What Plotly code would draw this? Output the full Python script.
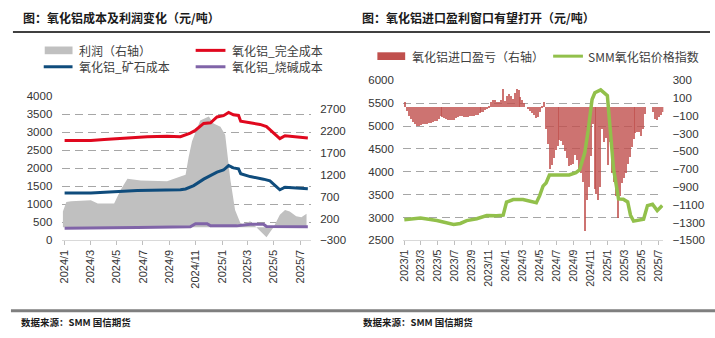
import plotly.graph_objects as go
import pandas as pd

W, H = 715, 338


def px(x):
    return x / W


def py(y):
    return 1 - y / H


# ---------------- Left panel data (元/吨) ----------------
full_cost_dates = ["2024-01-01", "2024-03-02", "2024-04-02", "2024-06-03", "2024-07-11", "2024-08-26",
                   "2024-09-26", "2024-10-19", "2024-10-31", "2024-11-19", "2024-12-05", "2024-12-20",
                   "2025-01-04", "2025-01-16", "2025-01-27", "2025-02-08", "2025-02-13", "2025-03-07",
                   "2025-03-30", "2025-04-14", "2025-05-03", "2025-05-15", "2025-05-27", "2025-06-22",
                   "2025-07-19"]
full_cost = [2768, 2768, 2795, 2840, 2875, 2884, 2875, 2973, 3054, 3241, 3259, 3420,
             3456, 3545, 3482, 3464, 3304, 3260, 3215, 3152, 2946, 2822, 2902, 2875, 2840]

ore_cost_dates = ["2024-01-01", "2024-03-02", "2024-06-18", "2024-09-26", "2024-10-08", "2024-10-27",
                  "2024-11-19", "2024-12-20", "2025-01-04", "2025-01-16", "2025-01-27", "2025-02-08",
                  "2025-02-13", "2025-03-07", "2025-04-07", "2025-04-22", "2025-05-15", "2025-05-27",
                  "2025-07-19"]
ore_cost = [1313, 1313, 1384, 1402, 1425, 1518, 1697, 1893, 1950, 2072, 2009, 1982,
            1848, 1768, 1697, 1652, 1402, 1473, 1429]

caustic_dates = ["2024-01-01", "2024-04-02", "2024-06-18", "2024-10-19", "2024-10-31", "2024-11-27",
                 "2024-12-05", "2025-02-04", "2025-03-07", "2025-04-07", "2025-04-14", "2025-07-19"]
caustic_cost = [339, 339, 357, 375, 464, 464, 402, 402, 446, 446, 384, 375]

profit_dates = ["2023-12-28", "2024-01-05", "2024-01-16", "2024-03-02", "2024-03-18", "2024-04-25",
                "2024-05-11", "2024-05-26", "2024-06-26", "2024-08-26", "2024-09-26", "2024-10-08",
                "2024-10-15", "2024-10-23", "2024-11-11", "2024-12-01", "2024-12-12", "2024-12-28",
                "2025-01-08", "2025-01-20", "2025-01-31", "2025-02-12", "2025-02-19", "2025-03-07",
                "2025-03-22", "2025-04-03", "2025-04-14", "2025-04-22", "2025-04-30", "2025-05-15",
                "2025-05-27", "2025-06-07", "2025-06-22", "2025-07-04", "2025-07-12", "2025-07-16"]
profit = [358, 578, 593, 615, 541, 541, 871, 1112, 1068, 1054, 1163, 1200,
          1602, 1968, 2444, 2532, 2371, 2298, 2115, 1090, 395, 102, 66, 139,
          -7, -117, -227, -117, -7, 285, 395, 358, 249, 227, 285, 307]

left_tickvals = ["2024-01-01", "2024-03-01", "2024-05-01", "2024-07-01", "2024-09-01", "2024-11-01",
                 "2025-01-01", "2025-03-01", "2025-05-01", "2025-07-01"]
left_ticktext = ["2024/1", "2024/3", "2024/5", "2024/7", "2024/9", "2024/11",
                 "2025/1", "2025/3", "2025/5", "2025/7"]

# ---------------- Right panel data (元/吨) ----------------
index_dates = ["2023-01-01", "2023-02-28", "2023-04-28", "2023-05-22", "2023-06-27", "2023-07-21",
               "2023-08-13", "2023-09-18", "2023-10-24", "2023-11-28", "2023-12-22", "2024-01-03",
               "2024-01-27", "2024-03-02", "2024-04-19", "2024-05-01", "2024-05-13", "2024-05-24",
               "2024-06-05", "2024-08-15", "2024-09-08", "2024-09-21", "2024-10-10", "2024-10-22",
               "2024-11-05", "2024-11-15", "2024-12-06", "2024-12-30", "2025-01-10", "2025-01-21",
               "2025-02-08", "2025-02-25", "2025-03-13", "2025-03-23", "2025-04-03", "2025-04-20",
               "2025-05-09", "2025-05-23", "2025-06-10", "2025-06-27", "2025-07-15"]
smm_index = [2953, 2988, 2933, 2905, 2849, 2870, 2933, 2974, 3044, 3037, 3050, 3337,
             3393, 3393, 3323, 3477, 3686, 3756, 3930, 3930, 3979, 4040, 4420, 4900,
             5578, 5726, 5789, 5663, 4946, 4070, 3407, 3400, 3340, 3050, 2920, 2940,
             2960, 3260, 3290, 3150, 3260]

# weekly import profit/loss, first week ending 2023-01-06
import_start = "2023-01-06"
import_pnl = [50, -50, -110, -140, -175, -200, -220, -215, -205, -200,
              -195, -190, -185, -180, -170, -165, -160, -140, -100, -115,
              -130, -140, -145, -150, -150, -145, -130, -115, -100, -110,
              -120, -120, -115, -110, -105, -100, -95, -90, -75, -65,
              -60, -40, -25, -10, 50, 70, 80, 50, 50, 70,
              200, 60, 120, 140, 120, 90, 150, 200, 190, 110,
              80, 40, 0, -30, -50, -70, -90, -130, -120, -55,
              -10, 50, -250, -420, -700, -650, -580, -490, -440, -380,
              -390, -430, -500, -580, -670, -660, -640, -540, -600, -700,
              -750, -850, -1400, -1050, -900, -550, -200, -920, -980, -1050,
              -900, -250, -400, -350, -650, -400, -750, -850, -1000, -1250,
              -1000, -860, -800, -750, -640, -570, -450, -360, -300, -290,
              -290, -330, -250, -80, 0, 0, 0, -60, -140, -150,
              -120, -90, -60]
bar_dates = pd.date_range(import_start, periods=len(import_pnl), freq="7D")

right_tickvals = ["2023-01-01", "2023-03-01", "2023-05-01", "2023-07-01", "2023-09-01", "2023-11-01",
                  "2024-01-01", "2024-03-01", "2024-05-01", "2024-07-01", "2024-09-01", "2024-11-01",
                  "2025-01-01", "2025-03-01", "2025-05-01", "2025-07-01"]
right_ticktext = ["2023/1", "2023/3", "2023/5", "2023/7", "2023/9", "2023/11",
                  "2024/1", "2024/3", "2024/5", "2024/7", "2024/9", "2024/11",
                  "2025/1", "2025/3", "2025/5", "2025/7"]

# ---------------- styles ----------------
CJK = "Noto Sans CJK SC"
NUM = "Liberation Sans"
GRAY_AREA = "#C0C0C0"
RED = "#E0081E"
BLUE = "#0F4C7C"
PURPLE = "#8064A8"
BAR = "#C0504D"
GREEN = "#92C04B"
GRID = "#A6A6A6"

fig = go.Figure()

# left panel
fig.add_trace(go.Scatter(x=profit_dates, y=profit, xaxis="x", yaxis="y", mode="lines",
                         fill="tozeroy", fillcolor=GRAY_AREA, line=dict(width=0, color=GRAY_AREA),
                         hoverinfo="skip"))
for d, v, c in [(full_cost_dates, full_cost, RED), (ore_cost_dates, ore_cost, BLUE),
                (caustic_dates, caustic_cost, PURPLE)]:
    fig.add_trace(go.Scatter(x=d, y=v, xaxis="x", yaxis="y2", mode="lines",
                             line=dict(color=c, width=3)))

# right panel (thin striped bars)
fig.add_trace(go.Bar(x=bar_dates, y=import_pnl, xaxis="x2", yaxis="y3",
                     marker=dict(color=BAR, opacity=0.8, line=dict(width=0)),
                     width=4.3 * 86400000))
fig.add_trace(go.Scatter(x=index_dates, y=smm_index, xaxis="x2", yaxis="y4", mode="lines",
                         line=dict(color=GREEN, width=3.5)))

tickfont = dict(family=NUM, size=11.5, color="#333333")
datefont = dict(family=NUM, size=11, color="#333333")

xcommon = dict(type="date", tickangle=-90, showline=True, linecolor="#D9D9D9", linewidth=1,
               ticks="outside", ticklen=4, tickcolor="#BFBFBF", showgrid=False, zeroline=False,
               tickfont=datefont)
ycommon = dict(showline=False, zeroline=False, ticks="outside", ticklen=6,
               tickcolor="rgba(0,0,0,0)", tickfont=tickfont)

fig.update_layout(
    width=W, height=H, margin=dict(l=0, r=0, t=0, b=0),
    paper_bgcolor="white", plot_bgcolor="rgba(0,0,0,0)", showlegend=False,
    font=dict(family=CJK, color="#333333"),
    bargap=0,
    xaxis=dict(domain=[px(57), px(308)], anchor="y", range=["2023-12-25", "2025-07-26"],
               tickvals=left_tickvals, ticktext=left_ticktext, **xcommon),
    yaxis=dict(domain=[py(243), py(93.4)], anchor="x", side="right", range=[-300, 3000],
               tick0=-300, dtick=500, showgrid=False, **ycommon),
    yaxis2=dict(overlaying="y", anchor="x", side="left", range=[0, 4000], dtick=500,
                showgrid=True, gridcolor=GRID, gridwidth=1.2, griddash="8px,5px", **ycommon),
    xaxis2=dict(domain=[px(401), px(663)], anchor="y3", range=["2022-12-28", "2025-07-19"],
                tickvals=right_tickvals, ticktext=right_ticktext,
                **{**xcommon, "tickfont": dict(family=NUM, size=10.5, color="#333333")}),
    yaxis3=dict(domain=[py(243), py(77)], anchor="x2", side="right", range=[-1500, 300],
                tick0=-1500, dtick=200, showgrid=False, **ycommon),
    yaxis4=dict(overlaying="y3", anchor="x2", side="left", range=[2500, 6000], dtick=500,
                showgrid=True, gridcolor=GRID, gridwidth=1.2, griddash="8px,5px", **ycommon),
)

shapes = []
annotations = []

# title rule & bottom rule
shapes.append(dict(type="line", xref="paper", yref="paper", x0=px(8), x1=px(710), y0=py(27), y1=py(27),
                   line=dict(color="#000000", width=1.5)))
shapes.append(dict(type="line", xref="paper", yref="paper", x0=px(6), x1=px(715), y0=py(316), y1=py(316),
                   line=dict(color="#7F7F7F", width=3)))

titles = [("图：氧化铝成本及利润变化（元/吨）", 16), ("图：氧化铝进口盈利窗口有望打开（元/吨）", 357)]
for t, x in titles:
    annotations.append(dict(text="<b>" + t + "</b>", x=px(x), y=py(12), xref="paper", yref="paper",
                            xanchor="left", yanchor="middle", showarrow=False,
                            font=dict(family=CJK, size=12, color="#1A1A1A")))
for x in (14, 359):
    annotations.append(dict(text="<b>数据来源：SMM 国信期货</b>", x=px(x), y=py(328), xref="paper",
                            yref="paper", xanchor="left", yanchor="middle", showarrow=False,
                            font=dict(family=CJK, size=9.5, color="#1A1A1A")))

# legends
legend_items = [
    ("rect", GRAY_AREA, 40, 68, 46, "利润（右轴）", 73),
    ("line", RED, 192, 222, 46, "氧化铝_完全成本", 227),
    ("line", BLUE, 39, 68, 63, "氧化铝_矿石成本", 73),
    ("line", PURPLE, 192, 222, 63, "氧化铝_烧碱成本", 227),
    ("rect", BAR, 375, 403, 52, "氧化铝进口盈亏（右轴）", 408),
    ("line", GREEN, 552, 582, 52, "SMM氧化铝价格指数", 585),
]
for kind, color, x0, x1, yc, label, tx in legend_items:
    if kind == "rect":
        shapes.append(dict(type="rect", xref="paper", yref="paper", x0=px(x0), x1=px(x1),
                           y0=py(yc + 4), y1=py(yc - 4), fillcolor=color, line=dict(width=0)))
    else:
        shapes.append(dict(type="line", xref="paper", yref="paper", x0=px(x0), x1=px(x1),
                           y0=py(yc), y1=py(yc), line=dict(color=color, width=3)))
    annotations.append(dict(text=label, x=px(tx), y=py(yc), xref="paper", yref="paper",
                            xanchor="left", yanchor="middle", showarrow=False,
                            font=dict(family=CJK, size=12, color="#404040")))

fig.update_layout(shapes=shapes, annotations=annotations)
fig.write_html("out.html")
